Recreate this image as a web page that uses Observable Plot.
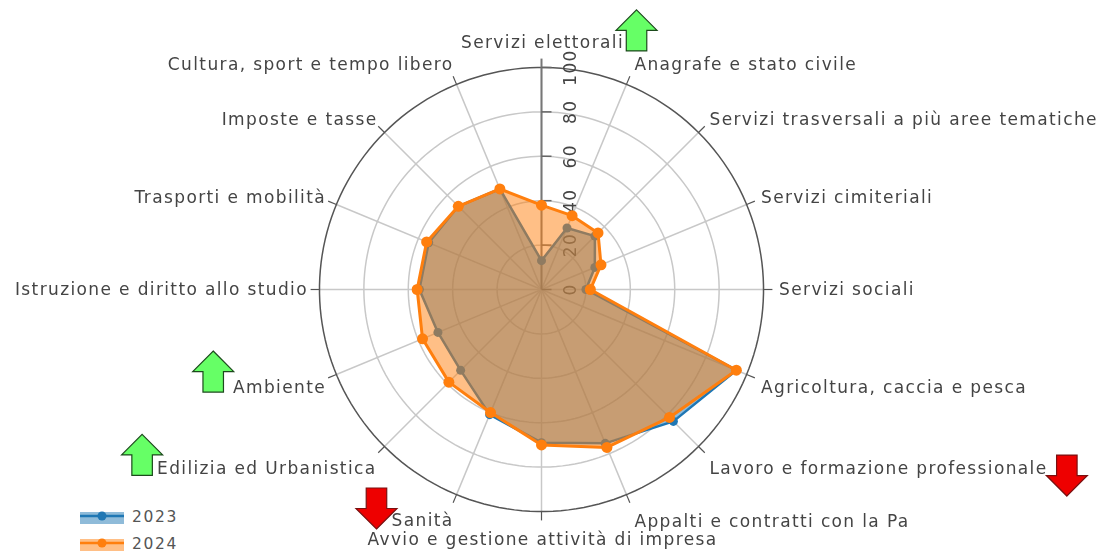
<!DOCTYPE html>
<html>
<head>
<meta charset="utf-8">
<script src="https://cdn.jsdelivr.net/npm/d3@7"></script>
<script src="https://cdn.jsdelivr.net/npm/@observablehq/plot@0.6"></script>
<style>
html,body{margin:0;padding:0;background:#fff;width:1100px;height:552px;overflow:hidden}
#chart{position:relative;width:1100px;height:552px;overflow:hidden}
#chart svg{display:block;filter:blur(0.4px)}
.leg{position:absolute;left:80px;display:flex;align-items:center;height:15px;line-height:15px;font:15.5px/15px "DejaVu Sans",sans-serif;letter-spacing:1.6px;color:#555}
.leg svg{margin-right:8px}
</style>
</head>
<body>
<div id="chart"></div>
<script>
const categories = ["Servizi elettorali","Anagrafe e stato civile","Servizi trasversali a più aree tematiche","Servizi cimiteriali","Servizi sociali","Agricoltura, caccia e pesca","Lavoro e formazione professionale","Appalti e contratti con la Pa","Avvio e gestione attività di impresa","Sanità","Edilizia ed Urbanistica","Ambiente","Istruzione e diritto allo studio","Trasporti e mobilità","Imposte e tasse","Cultura, sport e tempo libero"];
const values2023 = [13,30,34,26,20,95,84,75,69,61,51.5,50.5,55,55,53,49];
const values2024 = [38,36,36,29,22,95,81.5,77,70,60,59,58,56,56,53,49];
const radialTicks = [0,20,40,60,80,100];
const arrowUpAngle = [20.14,255.97,247.5];
const arrowUpRadius = [124.3,152.4,194.7];
const arrowDownAngle = [217,109.5];
const arrowDownRadius = [123.5,251];

const step = 360/categories.length;
const lon = i => 180 - i*step;
const lat = r => 90 - r/100;
const idx = d3.range(categories.length);
const blue = "#1f77b4", orange = "#ff7f0e";
const labelDy = [-9,-5,-2,-1,0,7,11,13,12,12,11,7,0,-1,-2,-5];
const labelDx = [1,2,0,0,0,0,0,2,1,3,3,4,4,4,4,3];
const anchorOf = i => (i===0||i===8) ? "middle" : (i<8 ? "start" : "end");

const upArrow = {draw(c,size){const s=Math.sqrt(size/Math.PI);
  c.moveTo(0,-s);c.lineTo(s,0);c.lineTo(s/2,0);c.lineTo(s/2,s);c.lineTo(-s/2,s);c.lineTo(-s/2,0);c.lineTo(-s,0);c.closePath();}};
const downArrow = {draw(c,size){const s=Math.sqrt(size/Math.PI);
  c.moveTo(0,s);c.lineTo(s,0);c.lineTo(s/2,0);c.lineTo(s/2,-s);c.lineTo(-s/2,-s);c.lineTo(-s/2,0);c.lineTo(-s,0);c.closePath();}};
const tickMark = {draw(c){c.moveTo(0,0);c.lineTo(10,0);}};

const series = (vals) => idx.map(i => ({lon: lon(i), lat: lat(vals[i])}));
const s23 = series(values2023), s24 = series(values2024);
const rings = radialTicks.filter(d => d > 0);

const fig = Plot.plot({
  width: 1100, height: 552,
  marginLeft: 319, marginRight: 337, marginTop: 67, marginBottom: 41,
  style: {fontFamily: '"DejaVu Sans",sans-serif', fontSize: "17px", letterSpacing: "1.37px", background: "transparent", overflow: "visible"},
  projection: {type: "azimuthal-equidistant", rotate: [0,-90], clip: false, domain: d3.geoCircle().center([0,90]).radius(1)()},
  marks: [
    Plot.geo(rings.filter(d => d < 100), {geometry: r => d3.geoCircle().center([0,90]).radius(r/100)(), stroke: "#c8c8c8", strokeWidth: 1.5}),
    Plot.link(idx, {x1: i => lon(i), y1: lat(100), x2: 0, y2: 90, stroke: "#c8c8c8", strokeWidth: 1.5}),
    Plot.geo([100], {geometry: r => d3.geoCircle().center([0,90]).radius(r/100)(), stroke: "#555", strokeWidth: 1.5}),
    Plot.link(idx.filter(i => i>0), {x1: i => lon(i), y1: lat(100), x2: i => lon(i), y2: lat(104), stroke: "#555", strokeWidth: 1.2}),
    Plot.link([0], {x1: 180, y1: lat(104), x2: 0, y2: 90, stroke: "#777", strokeWidth: 2}),
    Plot.dot(radialTicks, {x: 180, y: d => lat(d), symbol: tickMark, r: 5, stroke: "#666", strokeWidth: 1.5, fill: "none"}),
    Plot.text(radialTicks, {x: 180, y: d => lat(d), text: d => String(d), rotate: -90, dx: 29, fill: "#444", fontSize: 17}),
    ...idx.map(i => Plot.text([i], {x: lon(i), y: lat(107), text: () => categories[i], textAnchor: anchorOf(i), dy: labelDy[i], dx: labelDx[i], fill: "#444", fontSize: 17})),
    Plot.area(s23, {x1: "lon", y1: "lat", x2: 0, y2: 90, fill: blue, fillOpacity: 0.5, curve: "linear-closed"}),
    Plot.line(s23, {x: "lon", y: "lat", stroke: blue, strokeWidth: 2.5, curve: "linear-closed"}),
    Plot.dot(s23, {x: "lon", y: "lat", r: 4.5, fill: blue}),
    Plot.area(s24, {x1: "lon", y1: "lat", x2: 0, y2: 90, fill: orange, fillOpacity: 0.5, curve: "linear-closed"}),
    Plot.line(s24, {x: "lon", y: "lat", stroke: orange, strokeWidth: 3, curve: "linear-closed"}),
    Plot.dot(s24, {x: "lon", y: "lat", r: 5.5, fill: orange}),
    Plot.dot(arrowUpAngle.map((a,i)=>({a, r: arrowUpRadius[i]})), {x: d => 180-d.a, y: d => lat(d.r), symbol: upArrow, r: 20.5, fill: "#66ff66", stroke: "#1c4a1c", strokeWidth: 1.2}),
    Plot.dot(arrowDownAngle.map((a,i)=>({a, r: arrowDownRadius[i]})), {x: d => 180-d.a, y: d => lat(d.r), symbol: downArrow, r: 20.5, fill: "#ee0000", stroke: "#7a1010", strokeWidth: 1.2})
  ]
});
const host = document.getElementById("chart");
host.appendChild(fig);

function legendItem(label, color, top){
  const div = document.createElement("div");
  div.className = "leg";
  div.style.top = top + "px";
  div.innerHTML = `<svg width="44" height="14" viewBox="0 0 44 14"><rect x="0" y="1" width="44" height="12" fill="${color}" fill-opacity="0.5"/><line x1="0" x2="44" y1="5" y2="5" stroke="${color}" stroke-width="2.5"/><circle cx="22" cy="5" r="4.5" fill="${color}"/></svg><span>${label}</span>`;
  host.appendChild(div);
}
legendItem("2023", blue, 510);
legendItem("2024", orange, 537);
</script>
</body>
</html>
